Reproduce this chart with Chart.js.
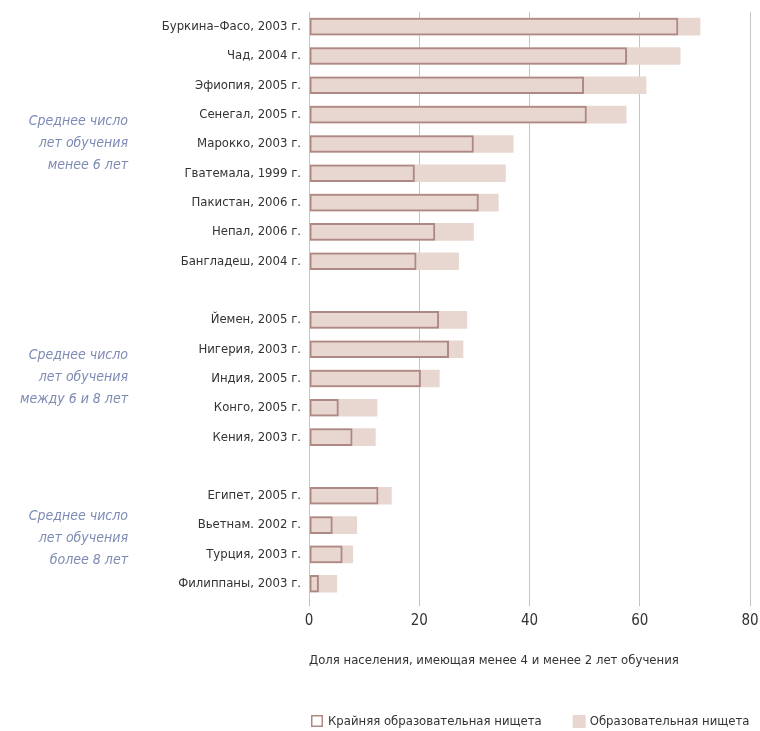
<!DOCTYPE html>
<html>
<head>
<meta charset="utf-8">
<script src="https://cdn.jsdelivr.net/npm/chart.js@4"></script>
<style>
  body { margin: 0; background: #fff; }
  #wrap { width: 760px; height: 731px; }
</style>
</head>
<body>
<div id="wrap"><canvas id="chart"></canvas></div>
<script>
// categories, empty strings keep the gaps between the groups
const countries = [
  "Буркина–Фасо, 2003 г.", "Чад, 2004 г.", "Эфиопия, 2005 г.", "Сенегал, 2005 г.",
  "Марокко, 2003 г.", "Гватемала, 1999 г.", "Пакистан, 2006 г.", "Непал, 2006 г.",
  "Бангладеш, 2004 г.", "",
  "Йемен, 2005 г.", "Нигерия, 2003 г.", "Индия, 2005 г.", "Конго, 2005 г.", "Кения, 2003 г.", "",
  "Египет, 2005 г.", "Вьетнам. 2002 г.", "Турция, 2003 г.", "Филиппаны, 2003 г."
];
// less than 2 years of schooling
const extremePoverty = [67.0, 57.7, 49.9, 50.4, 29.9, 19.2, 30.8, 22.9, 19.5, null,
  23.6, 25.4, 20.3, 5.4, 7.9, null, 12.6, 4.3, 6.1, 1.8];
// less than 4 years of schooling
const poverty = [71.0, 67.4, 61.2, 57.6, 37.1, 35.7, 34.4, 29.9, 27.2, null,
  28.7, 28.0, 23.7, 12.4, 12.1, null, 15.0, 8.7, 8.0, 5.1];
const xTicks = [0, 20, 40, 60, 80];

const groupLabels = [
  { lines: ["Среднее число", "лет обучения", "менее 6 лет"], at: 4 },
  { lines: ["Среднее число", "лет обучения", "между 6 и 8 лет"], at: 12 },
  { lines: ["Среднее число", "лет обучения", "более 8 лет"], at: 17.5 }
];

const narrow = "'Liberation Sans Narrow', 'DejaVu Sans Condensed', sans-serif";

// group captions on the left
const groupPlugin = {
  id: "groups",
  afterDraw(chart) {
    const ctx = chart.ctx;
    const y = chart.scales.y;
    ctx.save();
    ctx.font = "italic 14px " + narrow;
    ctx.fillStyle = "#7d8ab4";
    ctx.textAlign = "right";
    ctx.textBaseline = "middle";
    groupLabels.forEach(g => {
      const lo = Math.floor(g.at), hi = Math.ceil(g.at);
      const cy = (y.getPixelForValue(lo) + y.getPixelForValue(hi)) / 2;
      g.lines.forEach((t, i) => ctx.fillText(t, 128, cy + (i - 1) * 22 - 1));
    });
    ctx.restore();
  }
};

// legend at the bottom, starting under the axis
const legendPlugin = {
  id: "bottomLegend",
  afterDraw(chart) {
    const ctx = chart.ctx;
    let x = chart.chartArea.left + 2;
    const y = chart.height - 10;
    ctx.save();
    ctx.font = "13px " + narrow;
    ctx.textBaseline = "middle";
    ctx.fillStyle = "#333";
    chart.data.datasets.forEach(ds => {
      if (ds.borderWidth) {
        ctx.fillStyle = "#fff";
        ctx.fillRect(x, y - 6, 12, 12);
        ctx.strokeStyle = ds.borderColor;
        ctx.lineWidth = 1.5;
        ctx.strokeRect(x + 0.75, y - 5.25, 10.5, 10.5);
      } else {
        ctx.fillStyle = ds.backgroundColor;
        ctx.fillRect(x, y - 6, 13, 13);
      }
      ctx.fillStyle = "#333";
      ctx.fillText(ds.label, x + 17, y + 1);
      x += 17 + ctx.measureText(ds.label).width + 31;
    });
    ctx.restore();
  }
};

new Chart(document.getElementById("chart"), {
  type: "bar",
  data: {
    labels: countries,
    datasets: [
      {
        label: "Крайняя образовательная нищета",
        data: extremePoverty,
        backgroundColor: "rgba(255,255,255,0)",
        borderColor: "#ae8983",
        borderWidth: 2,
        borderSkipped: false,
        grouped: false,
        barPercentage: 0.6,
        categoryPercentage: 1,
        order: 0
      },
      {
        label: "Образовательная нищета",
        data: poverty,
        backgroundColor: "#e8d7d0",
        borderWidth: 0,
        grouped: false,
        barPercentage: 0.6,
        categoryPercentage: 1,
        order: 1
      }
    ]
  },
  options: {
    indexAxis: "y",
    responsive: true,
    maintainAspectRatio: false,
    animation: false,
    layout: { padding: { top: 12, right: 10, left: 0, bottom: 33 } },
    scales: {
      x: {
        min: 0, max: 80,
        afterBuildTicks: s => { s.ticks = xTicks.map(v => ({ value: v })); },
        afterFit: s => { s.paddingLeft = 0; s.paddingRight = 0; },
        grid: { color: "#c4c4c4", lineWidth: 1, tickLength: 8, drawTicks: true },
        border: { display: false },
        ticks: { color: "#333", font: { family: narrow, size: 15 }, padding: 6 },
        title: {
          display: true, align: "start",
          text: "Доля населения, имеющая менее 4 и менее 2 лет обучения",
          color: "#333", font: { family: narrow, size: 13 },
          padding: { top: 16, bottom: 30 }
        }
      },
      y: {
        afterFit: s => { s.width = 309; s.paddingTop = 0; s.paddingBottom = 0; },
        grid: { display: false, drawTicks: false },
        border: { display: false },
        ticks: { color: "#333", font: { family: narrow, size: 13 }, padding: 8 }
      }
    },
    plugins: {
      legend: { display: false },
      tooltip: { enabled: false }
    }
  },
  plugins: [groupPlugin, legendPlugin]
});
</script>
</body>
</html>
